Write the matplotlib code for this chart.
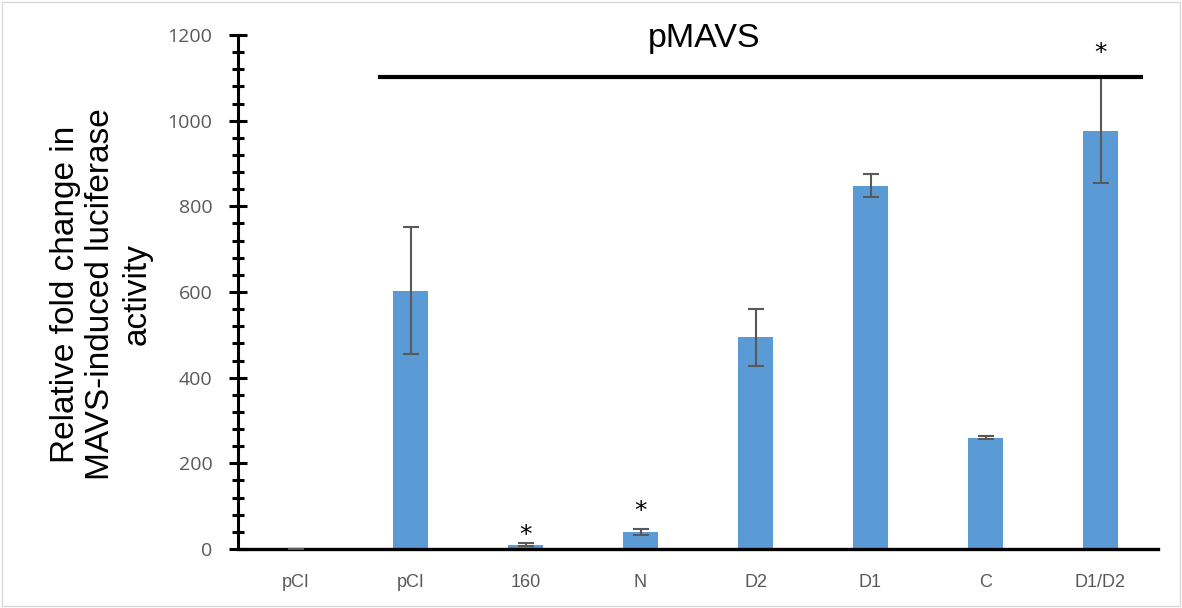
import matplotlib
matplotlib.use("Agg")
import matplotlib.pyplot as plt
import numpy as np
from matplotlib.ticker import MultipleLocator
from matplotlib.patches import Rectangle

categories = ["pCI", "pCI", "160", "N", "D2", "D1", "C", "D1/D2"]
values = [1, 603, 10, 40, 494, 848, 260, 977]
err_low = [0, 148, 3, 7, 67, 27, 4, 122]
err_high = [0, 148, 3, 7, 67, 27, 4, 125]
star_idx = [2, 3, 7]
star_y = [33, 89, 1158]
line_span = (0.72, 7.37)
line_y = 1102
title_text = "pMAVS"
ylabel_text = "Relative fold change in\nMAVS-induced luciferase\nactivity"

W, H = 1182, 608
fig = plt.figure(figsize=(W / 100, H / 100), dpi=100)
ax = fig.add_axes([238 / W, (H - 549) / H, (1158 - 238) / W, (549 - 35) / H])

x = np.arange(len(categories))
ax.bar(x, values, width=0.313, color="#5B9BD5", zorder=2)
ax.errorbar(x, values, yerr=[err_low, err_high], fmt="none", ecolor="#595959",
            elinewidth=1.5, capsize=5.5, capthick=1.5, zorder=3)

ax.set_xlim(-0.5, 7.5)
ax.set_ylim(0, 1200)
ax.yaxis.set_major_locator(MultipleLocator(200))
ax.yaxis.set_minor_locator(MultipleLocator(40))

for s in ["top", "right"]:
    ax.spines[s].set_visible(False)
ax.spines["left"].set_linewidth(2.2)
ax.spines["bottom"].set_linewidth(2.4)

ax.tick_params(axis="y", which="major", direction="inout", length=13, width=2.2,
               labelsize=14, labelcolor="#595959", pad=12)
ax.tick_params(axis="y", which="minor", direction="inout", length=9, width=2.2)
ax.tick_params(axis="x", which="both", length=0, pad=18, labelsize=13, labelcolor="#595959")
ax.set_xticks(x)
ax.set_xticklabels(categories, fontfamily=["Liberation Sans Narrow", "Liberation Sans", "DejaVu Sans"])
for lab in ax.get_yticklabels():
    lab.set_fontfamily(["Open Sans", "DejaVu Sans"])

ax.plot(line_span, [line_y, line_y], color="black", lw=3, clip_on=False, zorder=4,
        solid_capstyle="butt")
for i, yy in zip(star_idx, star_y):
    ax.text(i, yy, "*", ha="center", va="center", fontsize=18, color="black",
            fontfamily="DejaVu Sans")

ax.text(3.55, 1172, title_text, ha="center", va="baseline", fontsize=24.5,
        fontfamily=["Liberation Sans", "DejaVu Sans"], color="black", clip_on=False)

fig.text(101 / W, 1 - 294 / H, ylabel_text, rotation=90, ha="center", va="center",
         fontsize=24, fontfamily=["Liberation Sans", "DejaVu Sans"], multialignment="center",
         linespacing=1.2)

fig.patches.append(Rectangle((0.002, 0.003), 0.996, 0.994, transform=fig.transFigure,
                             fill=False, edgecolor="#D9D9D9", lw=1))

fig.savefig("out.png", dpi=100)
